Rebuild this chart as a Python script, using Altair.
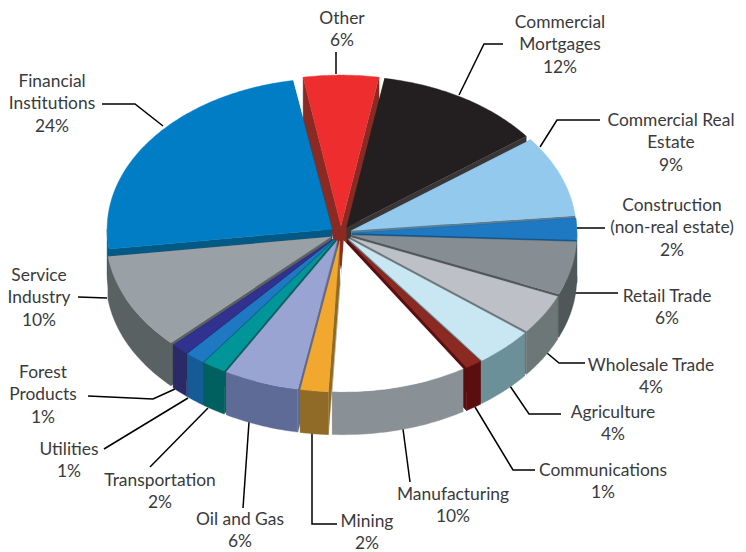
import math
import altair as alt
import pandas as pd

# --- chart values ---
categories = ["Other", "Commercial Mortgages", "Commercial Real Estate", "Construction (non-real estate)",
              "Retail Trade", "Wholesale Trade", "Agriculture", "Communications", "Manufacturing",
              "Mining", "Oil and Gas", "Transportation", "Utilities", "Forest Products",
              "Service Industry", "Financial Institutions"]
percent = [6, 12, 9, 2, 6, 4, 4, 1, 10, 2, 6, 2, 1, 1, 10, 24]
# share of the circle each slice visibly occupies in the picture, in percent
drawn_share = [5.4, 12.0, 8.7, 2.3, 5.7, 4.3, 4.2, 1.2, 9.7, 2.0, 5.4, 1.7, 1.4, 1.3, 10.3, 24.3]
top_colors = ["#ED2D2E", "#231F20", "#93C9EC", "#1F79C2", "#878E93", "#BDC0C7", "#C9E7F3", "#8B2A22",
              "#FFFFFF", "#F2A72E", "#9AA4D2", "#009699", "#1F79C2", "#313190", "#9AA1A6", "#007DC5"]
wall_colors = ["#8B2A22", "#3A3536", "#5A7F96", "#12588F", "#4F5759", "#6E7778", "#6C9098", "#5A0E10",
               "#8A9196", "#8F6B27", "#5E6B96", "#005F5F", "#155C96", "#2A2A66", "#5A6162", "#005A85"]
label_lines = [["Other"], ["Commercial", "Mortgages"], ["Commercial Real", "Estate"],
               ["Construction", "(non-real estate)"], ["Retail Trade"], ["Wholesale Trade"], ["Agriculture"],
               ["Communications"], ["Manufacturing"], ["Mining"], ["Oil and Gas"], ["Transportation"],
               ["Utilities"], ["Forest", "Products"], ["Service", "Industry"], ["Financial", "Institutions"]]

# --- layout of the tilted pie and its annotations (page pixels) ---
CX, CY, RX, RY, EXPLODE, DEPTH, START = 341, 233.5, 225, 151, 11, 43, -9.7
label_anchor = [(342, 19), (560, 23), (671, 121), (672, 206), (667, 297), (651, 366), (613, 413), (603, 471),
                (453, 495), (367, 521.5), (240, 520), (160, 481), (69, 450), (43, 373), (39, 276), (52, 82)]
LINE_H = 22.3
leaders = [[(336, 52), (336, 74)],
           [(503, 44), (484, 44), (459, 95)],
           [(600, 120), (557, 120), (540, 147)],
           [(577, 228), (605, 228)],
           [(575, 293), (618, 293)],
           [(547, 353), (559, 363), (585, 363)],
           [(510, 386), (529, 414), (561, 414)],
           [(475, 407), (513, 470), (535, 470)],
           [(403, 429), (410, 482)],
           [(312, 433), (312, 524), (337, 524)],
           [(249, 422), (243, 508)],
           [(208, 408), (150, 467)],
           [(188, 398), (104, 449)],
           [(175, 389), (153, 399), (88, 396)],
           [(107, 298), (78, 297)],
           [(163, 126), (135, 104), (102, 104)]]

OFF = 8  # page margin


def rim(tip, t):
    r = math.radians(t)
    return tip[0] + RX * math.sin(r), tip[1] - RY * math.cos(r)


slices = []
cum = START
for i, p in enumerate(drawn_share):
    t1, t2 = cum, cum + p * 3.6
    cum = t2
    mid = math.radians((t1 + t2) / 2)
    tip = (CX + EXPLODE * math.sin(mid), CY - EXPLODE * RY / RX * math.cos(mid))
    slices.append((math.cos(mid), i, t1, t2, tip))
slices.sort(key=lambda s: -s[0])

rows = []
pid = 0


def add(points, color):
    global pid
    for k, (x, y) in enumerate(points):
        rows.append({"part": pid, "k": k, "x": x - OFF, "y": y - OFF, "fill": color})
    pid += 1


for _, i, t1, t2, tip in slices:
    low = lambda q: (q[0], q[1] + DEPTH)
    wall, top = wall_colors[i], top_colors[i]
    for t in (t1, t2):
        e = rim(tip, t)
        add([tip, e, low(e), low(tip)], wall)
    a, b = max(t1, 90), min(t2, 270)
    if a < b:
        n = max(2, int(b - a) + 1)
        arc = [rim(tip, a + (b - a) * j / (n - 1)) for j in range(n)]
        add(arc + [low(q) for q in reversed(arc)], wall)
    n = max(2, int(t2 - t1) + 1)
    add([tip] + [rim(tip, t1 + (t2 - t1) * j / (n - 1)) for j in range(n)], top)

poly = pd.DataFrame(rows)

lead_rows = []
for i, pts in enumerate(leaders):
    for k, (x, y) in enumerate(pts):
        lead_rows.append({"line": i, "k": k, "x": x - OFF, "y": y - OFF})
lead = pd.DataFrame(lead_rows)

text_rows = []
for i, lines in enumerate(label_lines):
    ax, ay = label_anchor[i]
    for j, s in enumerate(lines + [f"{percent[i]}%"]):
        text_rows.append({"x": ax - OFF, "y": ay + j * LINE_H - OFF, "t": s})
text = pd.DataFrame(text_rows)

W, H = 730, 544
X = alt.X("x:Q", scale=alt.Scale(domain=[0, W], range=[0, W], nice=False, zero=False), axis=None)
Y = alt.Y("y:Q", scale=alt.Scale(domain=[0, H], range=[0, H], nice=False, zero=False), axis=None)

pie = alt.Chart(poly).mark_line(filled=True, strokeWidth=0.4, interpolate="linear").encode(
    x=X, y=Y, detail="part:N", order="k:Q",
    fill=alt.Fill("fill:N", scale=None), stroke=alt.Stroke("fill:N", scale=None))
lines_ = alt.Chart(lead).mark_line(color="#000000", strokeWidth=1.5).encode(x=X, y=Y, detail="line:N", order="k:Q")
labels = alt.Chart(text).mark_text(font="Lato", fontSize=17.4, color="#3A3A3C", align="center", baseline="middle").encode(
    x=X, y=Y, text="t:N")

chart = alt.layer(lines_, pie, labels).properties(
    width=W, height=H, padding=0, autosize=alt.AutoSizeParams(type="none")
).configure_view(stroke=None)
chart.save("out.html", embed_options={"renderer": "svg", "actions": False})
